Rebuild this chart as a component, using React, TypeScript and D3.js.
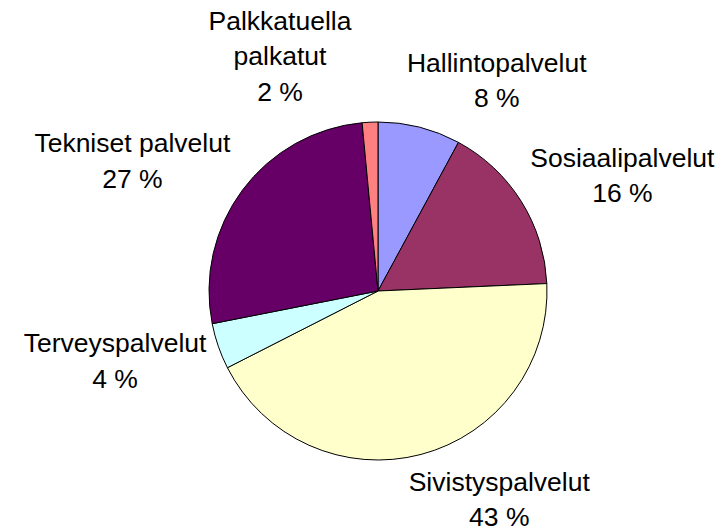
import React, { useEffect, useRef } from 'react';
import * as d3 from 'd3';

// Pie slices, clockwise from 12 o'clock
const categories = [
  'Hallintopalvelut',
  'Sosiaalipalvelut',
  'Sivistyspalvelut',
  'Terveyspalvelut',
  'Tekniset palvelut',
  'Palkkatuella palkatut',
];
const shares = [7.9, 16.4, 43.2, 4.4, 26.6, 1.5];
const colors = ['#9999FF', '#993366', '#FFFFCC', '#CCFFFF', '#660066', '#FF8080'];
// how each category name is broken into lines
const nameLines = [
  ['Hallintopalvelut'],
  ['Sosiaalipalvelut'],
  ['Sivistyspalvelut'],
  ['Terveyspalvelut'],
  ['Tekniset palvelut'],
  ['Palkkatuella', 'palkatut'],
];

const W = 723;
const H = 529;

interface Slice {
  name: string;
  value: number;
  color: string;
  lines: string[];
}

const PieChart: React.FC = () => {
  const svgRef = useRef<SVGSVGElement>(null);

  useEffect(() => {
    if (!svgRef.current) return;
    const svg = d3.select(svgRef.current);
    svg.selectAll('*').remove();

    const cx = 378;
    const cy = 291;
    const r = 169;
    const labelR = r + 12;
    const lineH = 35.5;
    const fontSize = 26.5;

    const data: Slice[] = categories.map((name, i) => ({
      name,
      value: shares[i],
      color: colors[i],
      lines: nameLines[i],
    }));
    const total = d3.sum(shares);

    const pie = d3.pie<Slice>().sort(null).value((d) => d.value);
    const arc = d3.arc<d3.PieArcDatum<Slice>>().innerRadius(0).outerRadius(r);
    const arcs = pie(data);

    const g = svg.append('g').attr('transform', `translate(${cx},${cy})`);

    g.selectAll('path')
      .data(arcs)
      .enter()
      .append('path')
      .attr('d', arc)
      .attr('fill', (d) => d.data.color)
      .attr('stroke', '#000')
      .attr('stroke-width', 1);

    // labels: block sits just outside the rim, hugging the mid-angle point
    arcs.forEach((d) => {
      const mid = (d.startAngle + d.endAngle) / 2;
      const px = Math.sin(mid) * labelR;
      const py = -Math.cos(mid) * labelR;
      const lines = [...d.data.lines, `${Math.round((d.data.value / total) * 100)} %`];
      const blockH = lines.length * lineH;
      const fy = (1 + Math.cos(mid)) / 2;
      const top = py - fy * blockH;

      const text = g
        .append('text')
        .attr('font-family', 'Arial, "Liberation Sans", sans-serif')
        .attr('font-size', fontSize)
        .attr('fill', '#000')
        .attr('text-anchor', 'middle');
      lines.forEach((ln, i) => {
        text
          .append('tspan')
          .attr('x', 0)
          .attr('y', top + 26 + i * lineH)
          .text(ln);
      });

      // measure and shift so the block edge touches the anchor point;
      // labels near the top/bottom sit a little further left
      const node = text.node() as SVGTextElement;
      const w = node.getBBox().width;
      const nudge = -18 * Math.pow(Math.cos(mid), 4);
      const centerX = (Math.sin(mid) >= 0 ? px + w / 2 : px - w / 2) + nudge;
      text.selectAll('tspan').attr('x', centerX);
    });
  }, []);

  return (
    <svg
      ref={svgRef}
      width={W}
      height={H}
      style={{ position: 'absolute', top: 0, left: 0, background: '#fff' }}
    />
  );
};

export default function App() {
  return <PieChart />;
}
